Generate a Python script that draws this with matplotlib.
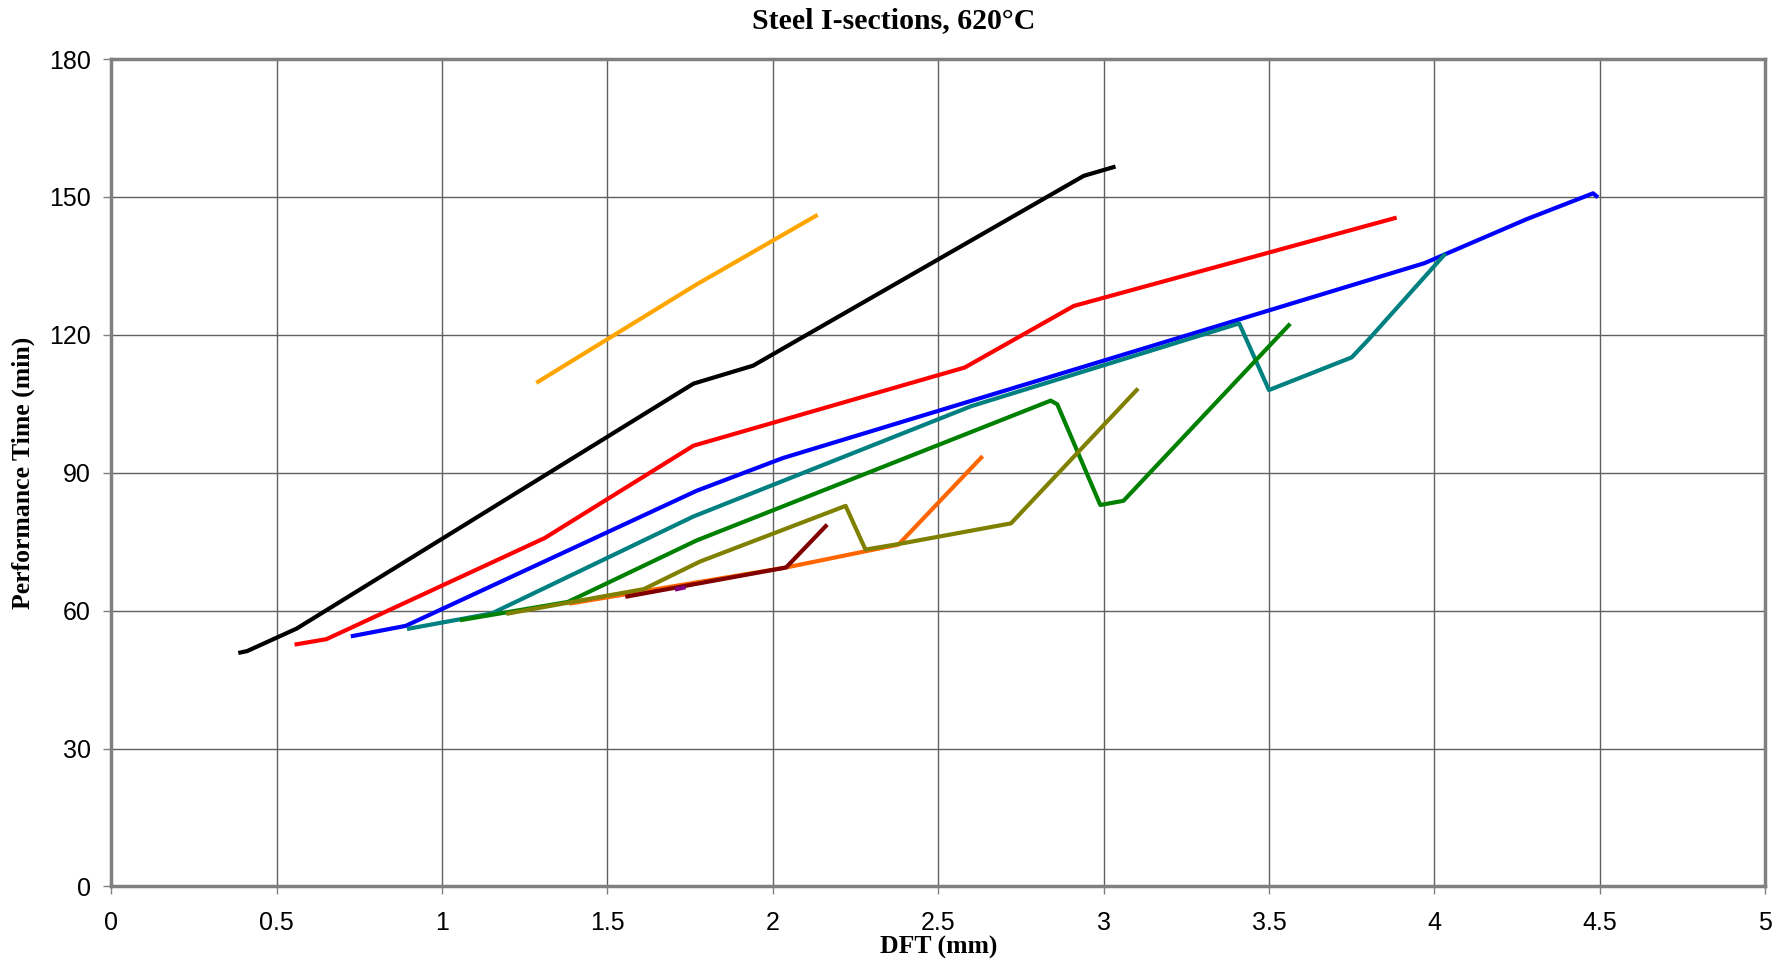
from matplotlib import pyplot as plt

# DFT (mm) / performance time (min), one pair of lists per section
x_orange = [1.29, 1.77, 2.13]
y_orange = [109.8, 131.0, 145.9]

x_black = [0.39, 0.41, 0.56, 1.76, 1.94, 2.94, 3.03]
y_black = [50.9, 51.2, 56.1, 109.4, 113.3, 154.6, 156.5]

x_red = [0.56, 0.65, 1.31, 1.76, 2.58, 2.91, 3.88]
y_red = [52.7, 53.8, 75.8, 95.9, 112.9, 126.3, 145.4]

x_blue = [0.73, 0.89, 1.77, 2.03, 3.97, 4.28, 4.48, 4.49]
y_blue = [54.5, 56.7, 86.1, 93.2, 135.6, 145.2, 150.8, 150.2]

x_teal = [0.90, 1.15, 1.76, 2.60, 3.41, 3.50, 3.75, 3.80, 4.03]
y_teal = [56.1, 59.4, 80.5, 104.5, 122.5, 108.0, 115.1, 118.9, 137.4]

x_green = [1.06, 1.38, 1.77, 2.84, 2.86, 2.99, 3.06, 3.56]
y_green = [58.0, 61.9, 75.3, 105.7, 104.9, 83.0, 83.9, 122.1]

x_dorange = [1.39, 2.04, 2.38, 2.63]
y_dorange = [61.6, 69.4, 74.4, 93.3]

x_olive = [1.20, 1.61, 1.78, 2.22, 2.28, 2.38, 2.72, 3.10]
y_olive = [59.4, 64.7, 70.7, 82.8, 73.3, 74.5, 79.0, 108.0]

x_maroon = [1.56, 2.04, 2.16]
y_maroon = [63.1, 69.4, 78.4]

x_purple = [1.71, 1.73]
y_purple = [64.7, 65.0]

xticks = [0, 0.5, 1, 1.5, 2, 2.5, 3, 3.5, 4, 4.5, 5]
xtick_labels = ['0', '0.5', '1', '1.5', '2', '2.5', '3', '3.5', '4', '4.5', '5']
yticks = [0, 30, 60, 90, 120, 150, 180]

fig = plt.figure(figsize=(17.82, 9.64), dpi=100)
ax = fig.add_axes([0.0625, 0.0804, 0.928, 0.8583])

lw = 3.0
ax.plot(x_orange, y_orange, color='#FFA500', lw=lw)
ax.plot(x_black, y_black, color='black', lw=lw)
ax.plot(x_red, y_red, color='#FF0000', lw=lw)
ax.plot(x_blue, y_blue, color='#0000FF', lw=lw)
ax.plot(x_teal, y_teal, color='#008080', lw=lw)
ax.plot(x_green, y_green, color='#008000', lw=lw)
ax.plot(x_dorange, y_dorange, color='#FF6600', lw=lw)
ax.plot(x_olive, y_olive, color='#808000', lw=lw)
ax.plot(x_maroon, y_maroon, color='#800000', lw=lw)
ax.plot(x_purple, y_purple, color='#800080', lw=lw)

ax.set_xlim(0, 5)
ax.set_ylim(0, 180)
ax.set_xticks(xticks)
ax.set_xticklabels(xtick_labels)
ax.set_yticks(yticks)
ax.grid(True, color='#606060', lw=1.0)
ax.set_axisbelow(True)

for s in ax.spines.values():
    s.set_color('#808080')
    s.set_linewidth(2.5)

ax.tick_params(direction='out', length=6, width=1, color='#808080',
               labelsize=18, pad=9)
for lab in ax.get_xticklabels() + ax.get_yticklabels():
    lab.set_family('Liberation Sans')
ax.tick_params(axis='x', pad=12)

# title sits centred on the figure, not on the plot area
fig.text(0.5016, 0.979, 'Steel I-sections, 620°C', family='Liberation Serif',
         fontweight='bold', fontsize=21.5, ha='center', va='center')
ax.set_xlabel('DFT (mm)', family='Liberation Serif', fontweight='bold',
              fontsize=18.5, labelpad=0)
ax.set_ylabel('Performance Time (min)', family='Liberation Serif',
              fontweight='bold', fontsize=18.5, labelpad=10)

fig.savefig('out.png', dpi=100, facecolor='white')
